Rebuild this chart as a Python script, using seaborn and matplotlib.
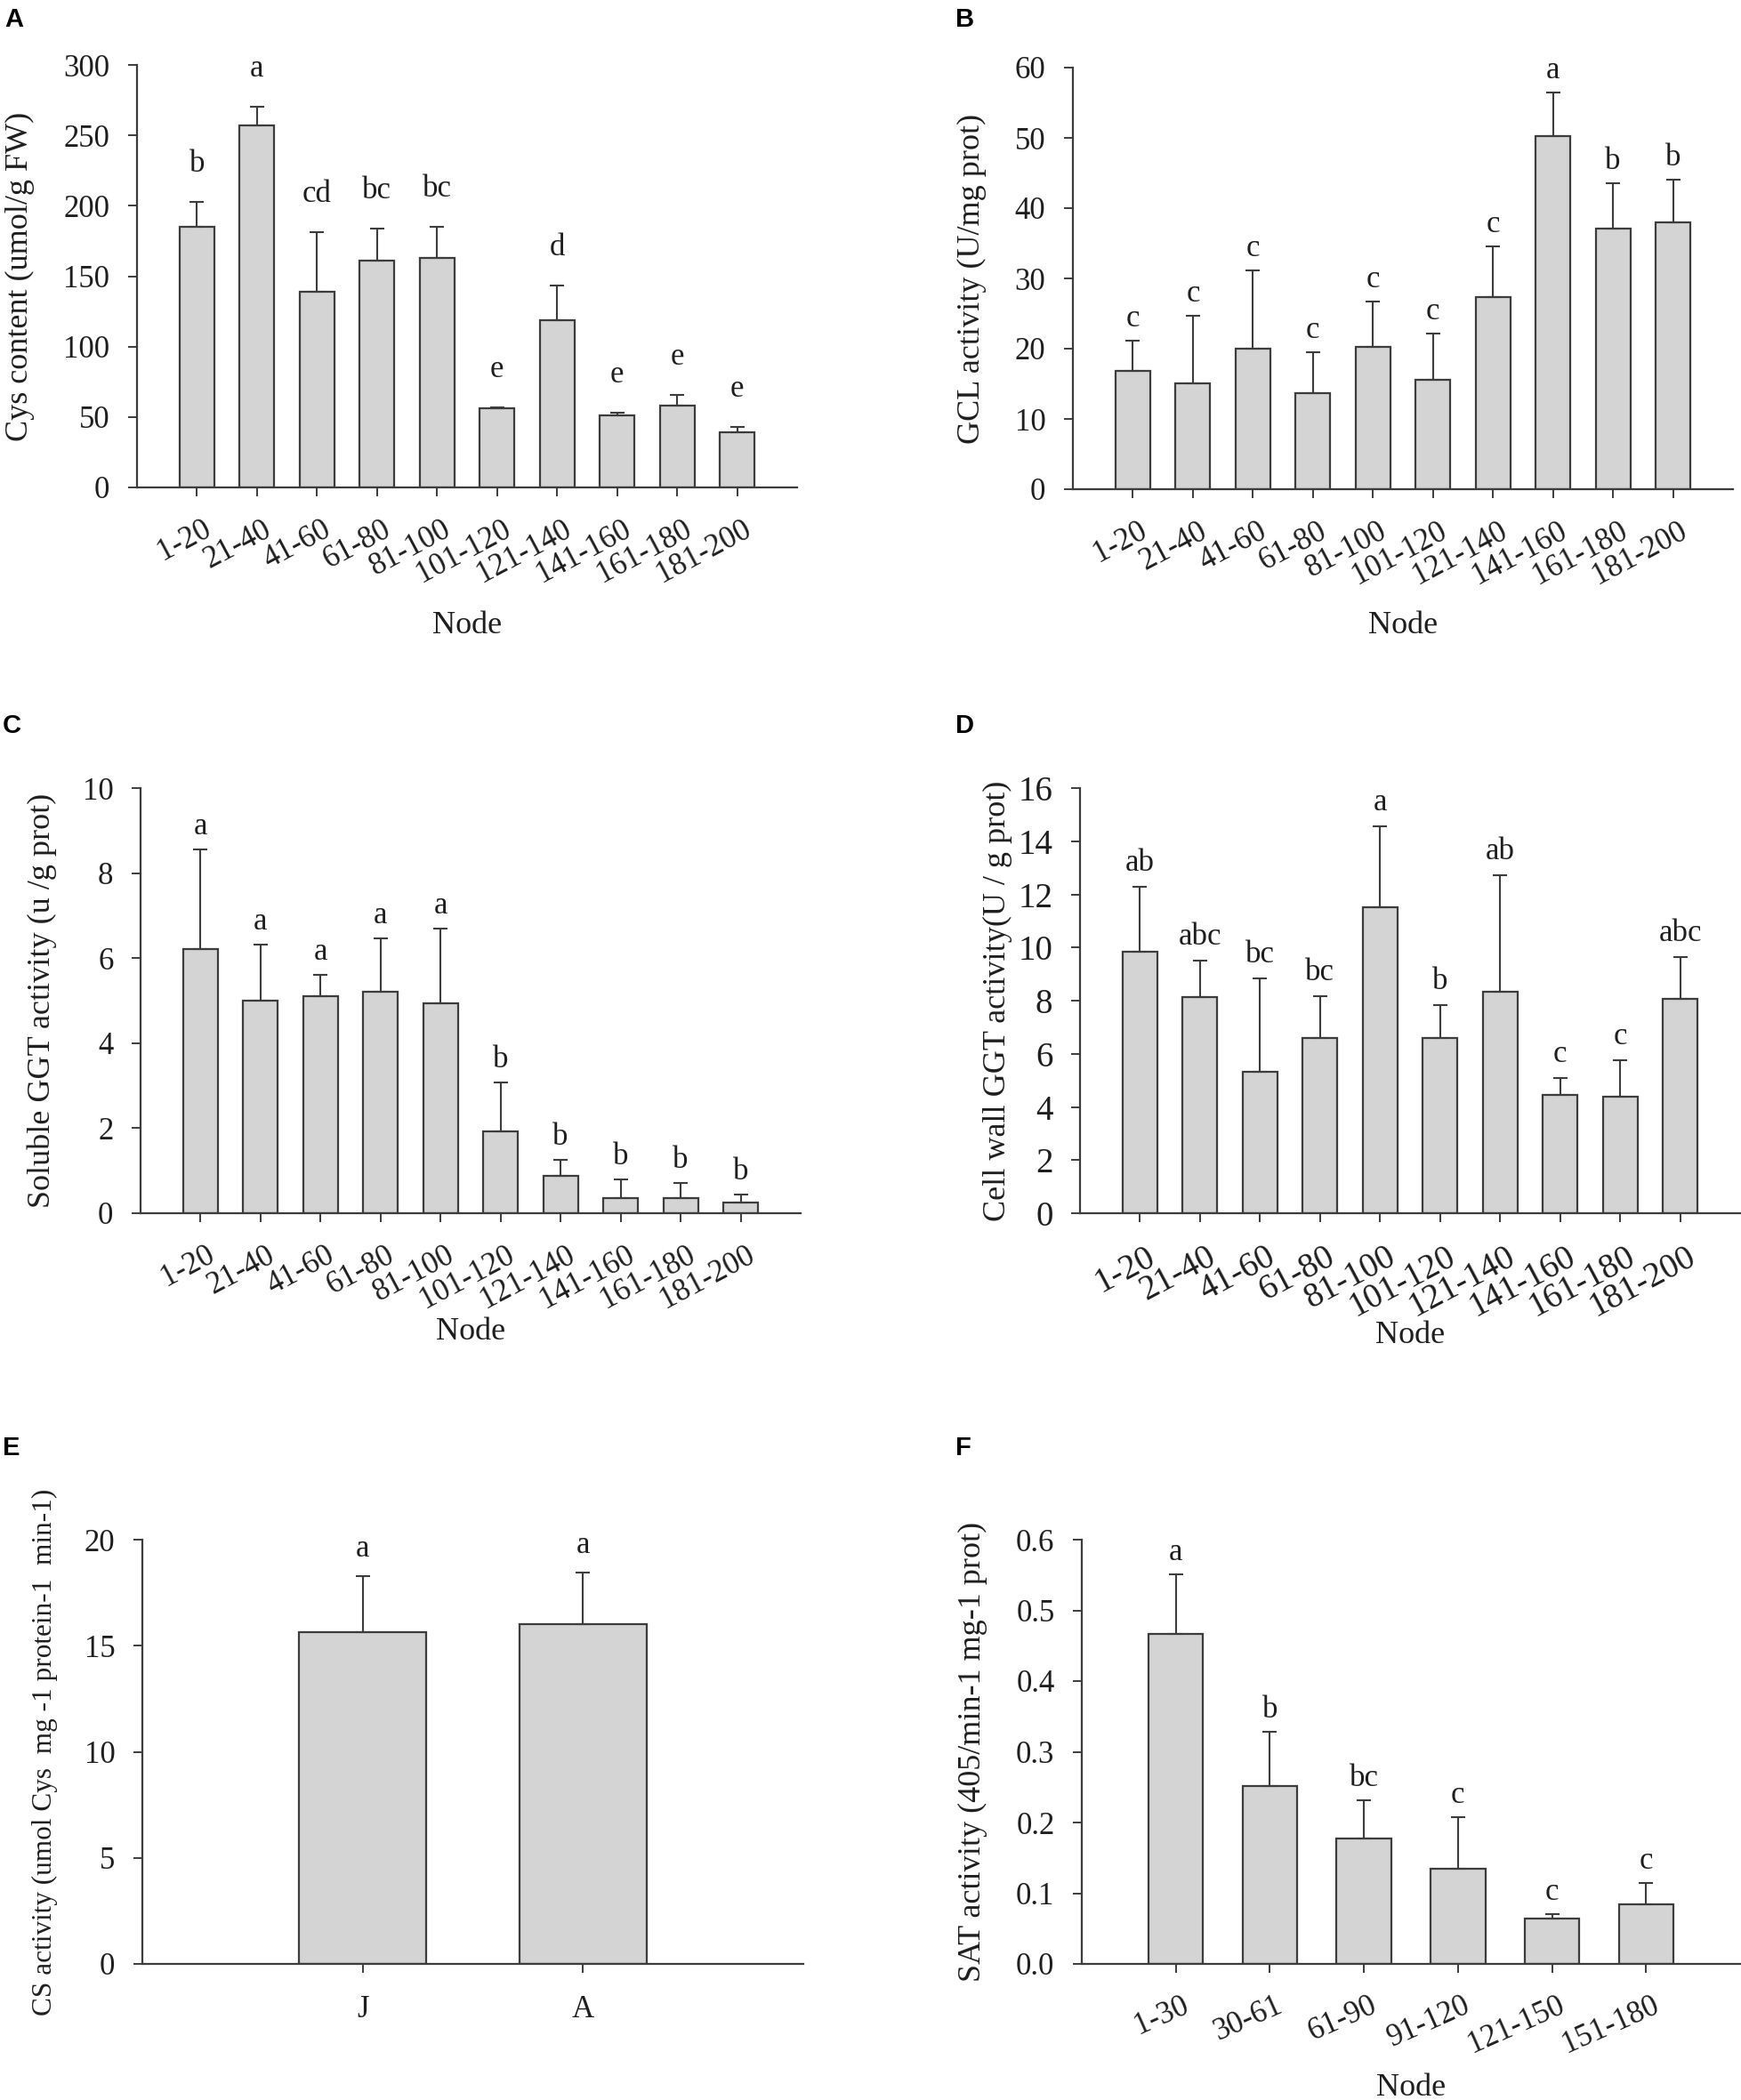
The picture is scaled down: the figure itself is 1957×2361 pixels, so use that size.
import matplotlib
matplotlib.use("Agg")
import matplotlib.pyplot as plt
import matplotlib.transforms as mtransforms
import seaborn as sns
import numpy as np
import pandas as pd

# ---------------- data ----------------
nodes_10 = ["1-20", "21-40", "41-60", "61-80", "81-100",
            "101-120", "121-140", "141-160", "161-180", "181-200"]

cys_mean = [185, 257, 139, 161, 163, 56, 119, 51, 58, 39]
cys_sd = [18, 13, 42, 23, 22, 1, 24.5, 2, 8, 4]
cys_letters = ["b", "a", "cd", "bc", "bc", "e", "d", "e", "e", "e"]

gcl_mean = [16.8, 15.1, 20.0, 13.7, 20.2, 15.6, 27.4, 50.3, 37.1, 38.0]
gcl_sd = [4.4, 9.6, 11.2, 5.8, 6.5, 6.5, 7.2, 6.1, 6.5, 6.0]
gcl_letters = ["c", "c", "c", "c", "c", "c", "c", "a", "b", "b"]

sggt_mean = [6.22, 5.0, 5.1, 5.21, 4.94, 1.92, 0.88, 0.36, 0.36, 0.26]
sggt_sd = [2.33, 1.31, 0.5, 1.25, 1.76, 1.15, 0.38, 0.44, 0.35, 0.18]
sggt_letters = ["a", "a", "a", "a", "a", "b", "b", "b", "b", "b"]

wggt_mean = [9.83, 8.13, 5.32, 6.58, 11.53, 6.58, 8.33, 4.45, 4.38, 8.07]
wggt_sd = [2.45, 1.36, 3.51, 1.6, 3.02, 1.26, 4.4, 0.63, 1.37, 1.58]
wggt_letters = ["ab", "abc", "bc", "bc", "a", "b", "ab", "c", "c", "abc"]

cs_groups = ["J", "A"]
cs_mean = [15.63, 16.02]
cs_sd = [2.67, 2.41]
cs_letters = ["a", "a"]

nodes_6 = ["1-30", "30-61", "61-90", "91-120", "121-150", "151-180"]
sat_mean = [0.467, 0.252, 0.177, 0.134, 0.064, 0.084]
sat_sd = [0.084, 0.076, 0.055, 0.073, 0.006, 0.030]
sat_letters = ["a", "b", "bc", "c", "c", "c"]

# ---------------- style ----------------
W, H = 1957, 2361
DPI = 100
sns.set_theme(style="white")
plt.rcParams["font.family"] = ["Liberation Serif", "DejaVu Serif"]
LINE = "#3c3c3c"
FILL = "#d4d4d4"
TXT = "#1e1e1e"

fig = plt.figure(figsize=(W / DPI, H / DPI), dpi=DPI)


def make_axes(left, right, top, bottom):
    return fig.add_axes([left / W, 1 - bottom / H, (right - left) / W, (bottom - top) / H])


def panel(ax, box, cats, means, sds, letters, ylim, yticks, ylabel, ylab_x,
          xlabel_y=None, rot=28, letter_off=18, tick_fs=25,
          ylab_fs=26, yfmt=None):
    left, right, top, bottom = box
    n = len(cats)
    df = pd.DataFrame({"cat": cats, "val": means})
    sns.barplot(data=df, x="cat", y="val", ax=ax, color=FILL, saturation=1,
                edgecolor=LINE, linewidth=1.6, width=0.58, errorbar=None)
    xs = np.arange(n)
    ax.errorbar(xs, means, yerr=[np.zeros(n), sds], fmt="none", ecolor=LINE,
                elinewidth=1.5, capsize=6, capthick=1.5, zorder=3)
    for x, m, s, lab in zip(xs, means, sds, letters):
        ax.annotate(lab, (x, m + s), xytext=(0, letter_off), textcoords="offset pixels",
                    ha="center", va="baseline", fontsize=25, color=TXT)
    ax.set_xlim(-1, n)
    ax.set_ylim(*ylim)
    ax.set_yticks(yticks)
    if yfmt:
        ax.set_yticklabels([yfmt.format(t) for t in yticks])
    for side in ("top", "right"):
        ax.spines[side].set_visible(False)
    for side in ("left", "bottom"):
        ax.spines[side].set_color(LINE)
        ax.spines[side].set_linewidth(1.6)
    ax.tick_params(axis="both", direction="out", length=7, width=1.4, color=LINE,
                   labelsize=tick_fs, labelcolor=TXT, left=True, bottom=True)
    ax.tick_params(axis="y", pad=15)
    if rot:
        ax.tick_params(axis="x", pad=15)
        offset = mtransforms.ScaledTranslation(6 / DPI, 0, fig.dpi_scale_trans)
        for lab in ax.get_xticklabels():
            lab.set_rotation(rot)
            lab.set_ha("right")
            lab.set_va("top")
            lab.set_rotation_mode("anchor")
            lab.set_transform(lab.get_transform() + offset)
    else:
        ax.tick_params(axis="x", pad=18)
    ax.set_xlabel("Node" if xlabel_y else "", fontsize=26, color=TXT, va="center")
    if xlabel_y:
        ax.xaxis.set_label_coords(0.5, -(xlabel_y - bottom) / (bottom - top))
    ax.set_ylabel(ylabel, fontsize=ylab_fs, color=TXT, va="center")
    ax.yaxis.set_label_coords((ylab_x - left) / (right - left), 0.5)


def letter(x, y, s):
    fig.text(x / W, 1 - y / H, s, fontsize=21, fontweight="bold",
             family=["Liberation Sans", "DejaVu Sans"], ha="left", va="top", color="black")


# Panel A
box = (154, 896, 73, 548)
axA = make_axes(*box)
panel(axA, box, nodes_10, cys_mean, cys_sd, cys_letters, (0, 300), range(0, 301, 50),
      "Cys content (umol/g FW)", 22, xlabel_y=704, letter_off=34)
letter(5, 8, "A")

# Panel B
box = (1206, 1948, 76, 550)
axB = make_axes(*box)
panel(axB, box, nodes_10, gcl_mean, gcl_sd, gcl_letters, (0, 60), range(0, 61, 10),
      "GCL activity (U/mg prot)", 1092, xlabel_y=704, letter_off=16)
letter(1074, 8, "B")

# Panel C
box = (158, 900, 886, 1364)
axC = make_axes(*box)
panel(axC, box, nodes_10, sggt_mean, sggt_sd, sggt_letters, (0, 10), range(0, 11, 2),
      "Soluble GGT activity (u /g prot)", 47, xlabel_y=1497, letter_off=17)
letter(3, 802, "C")

# Panel D
box = (1214, 1956, 886, 1364)
axD = make_axes(*box)
panel(axD, box, nodes_10, wggt_mean, wggt_sd, wggt_letters, (0, 16), range(0, 17, 2),
      "Cell wall GGT activity(U / g prot)", 1121, xlabel_y=1502, letter_off=18,
      tick_fs=28)
letter(1074, 802, "D")

# Panel E
box = (160, 903, 1731, 2208)
axE = make_axes(*box)
panel(axE, box, cs_groups, cs_mean, cs_sd, cs_letters, (0, 20), range(0, 21, 5),
      "CS activity (umol Cys  mg -1 protein-1  min-1)", 50, xlabel_y=None,
      rot=0, letter_off=22, ylab_fs=22.5)
letter(3, 1614, "E")

# Panel F
box = (1216, 1956, 1731, 2208)
axF = make_axes(*box)
panel(axF, box, nodes_6, sat_mean, sat_sd, sat_letters, (0, 0.6),
      [0, 0.1, 0.2, 0.3, 0.4, 0.5, 0.6], "SAT activity (405/min-1 mg-1 prot)", 1093,
      xlabel_y=2347, rot=24, letter_off=16, yfmt="{:.1f}")
letter(1074, 1614, "F")

fig.savefig("out.png", dpi=DPI, facecolor="white")
